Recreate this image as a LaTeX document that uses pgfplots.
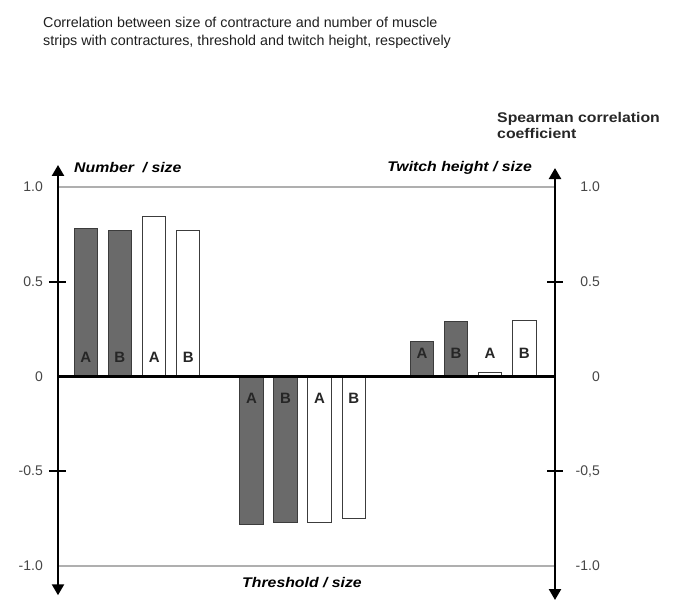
\documentclass[border=0pt]{standalone}
\usepackage{fontspec}
\setmainfont{Liberation Sans}
\newfontfamily\widebf[FakeStretch=1.13]{Liberation Sans Bold}
\newfontfamily\widebi[FakeStretch=1.13]{Liberation Sans Bold Italic}
\usepackage{pgfplots}
\pgfplotsset{compat=1.18}
\usepackage{pgfplotstable}
\usetikzlibrary{arrows.meta}

\definecolor{darkbar}{RGB}{106,106,106}
\definecolor{baredge}{RGB}{60,60,60}
\definecolor{ticktext}{RGB}{70,70,70}
\definecolor{refline}{RGB}{175,175,175}

% filled bars (x position, coefficient)
\pgfplotstableread{
x      y
0.82   0.78
1.82   0.77
5.69  -0.78
6.69  -0.77
10.71  0.185
11.71  0.29
}\darkdata
% open bars
\pgfplotstableread{
x      y
2.83   0.845
3.83   0.77
7.69  -0.77
8.70  -0.75
12.71  0.02
13.72  0.295
}\whitedata

\tikzset{
  tlab/.style={anchor=east, inner sep=0pt, text=ticktext, font=\fontsize{14}{16}\selectfont},
  blab/.style={inner sep=0pt, text=black!85, font=\bfseries\fontsize{15}{17}\selectfont},
  axarrow/.style={line width=2.4pt, -{Triangle[width=12pt,length=11pt]}},
}

\begin{document}
\begin{tikzpicture}[x=1pt,y=1pt]
\useasboundingbox (0,0) rectangle (677,600);
\begin{axis}[
    scale only axis,
    width=497pt, height=435pt,
    anchor=south west, at={(58pt,0pt)},
    xmin=0, xmax=14.62,
    ymin=-1.18, ymax=1.116,
    axis lines=none,
    ticks=none,
    clip=false,
]
  % reference lines at +-1
  \draw[refline, line width=1.3pt] (axis cs:0,1) -- (axis cs:14.62,1);
  \draw[refline, line width=1.3pt] (axis cs:0,-1) -- (axis cs:14.62,-1);

  \addplot[ybar, bar width=0.69, bar shift=0pt, fill=darkbar, draw=baredge, line width=0.9pt]
    table[x=x, y=y] {\darkdata};
  \addplot[ybar, bar width=0.69, bar shift=0pt, fill=white, draw=baredge, line width=0.9pt]
    table[x=x, y=y] {\whitedata};

  % zero line
  \draw[black, line width=2.4pt] (axis cs:0,0) -- (axis cs:14.62,0);

  % vertical axes with arrows
  \draw[axarrow] (axis cs:0,0) -- (axis cs:0,1.116);
  \draw[axarrow] (axis cs:0,0) -- (axis cs:0,-1.155);
  \draw[axarrow] (axis cs:14.62,0) -- (axis cs:14.62,1.10);
  \draw[axarrow] (axis cs:14.62,0) -- (axis cs:14.62,-1.18);

  % tick marks
  \draw[line width=1.8pt] ([xshift=-9pt]axis cs:0,0.5) -- ([xshift=8pt]axis cs:0,0.5);
  \draw[line width=1.8pt] ([xshift=-9pt]axis cs:0,-0.5) -- ([xshift=8pt]axis cs:0,-0.5);
  \draw[line width=1.8pt] ([xshift=-8pt]axis cs:14.62,0.5) -- ([xshift=8pt]axis cs:14.62,0.5);
  \draw[line width=1.8pt] ([xshift=-8pt]axis cs:14.62,-0.5) -- ([xshift=8pt]axis cs:14.62,-0.5);

  % tick labels, left
  \node[tlab] at ([xshift=-15pt]axis cs:0,1) {1.0};
  \node[tlab] at ([xshift=-15pt]axis cs:0,0.5) {0.5};
  \node[tlab] at ([xshift=-15pt]axis cs:0,0) {0};
  \node[tlab] at ([xshift=-15pt]axis cs:0,-0.5) {-0.5};
  \node[tlab] at ([xshift=-15pt]axis cs:0,-1) {-1.0};
  % tick labels, right
  \node[tlab] at ([xshift=45pt]axis cs:14.62,1) {1.0};
  \node[tlab] at ([xshift=45pt]axis cs:14.62,0.5) {0.5};
  \node[tlab] at ([xshift=45pt]axis cs:14.62,0) {0};
  \node[tlab] at ([xshift=45pt]axis cs:14.62,-0.5) {-0,5};
  \node[tlab] at ([xshift=45pt]axis cs:14.62,-1) {-1.0};

  % bar letters
  \node[blab] at (axis cs:0.82,0.10) {A};
  \node[blab] at (axis cs:1.82,0.10) {B};
  \node[blab] at (axis cs:2.83,0.10) {A};
  \node[blab] at (axis cs:3.83,0.10) {B};
  \node[blab] at (axis cs:5.69,-0.115) {A};
  \node[blab] at (axis cs:6.69,-0.115) {B};
  \node[blab] at (axis cs:7.69,-0.115) {A};
  \node[blab] at (axis cs:8.70,-0.115) {B};
  \node[blab] at (axis cs:10.71,0.12) {A};
  \node[blab] at (axis cs:11.71,0.12) {B};
  \node[blab] at (axis cs:12.71,0.12) {A};
  \node[blab] at (axis cs:13.72,0.12) {B};
\end{axis}

% title and labels (picture coordinates, origin bottom left)
\node[anchor=base west, inner sep=0pt, align=left, text=black!88,
      font=\fontsize{14.3}{18}\selectfont] at (43,554)
  {Correlation between size of contracture and number of muscle\\
   strips with contractures, threshold and twitch height, respectively};
\node[anchor=base west, inner sep=0pt, align=left, text=black!85,
      font=\widebf\fontsize{14}{16}\selectfont] at (497,461)
  {Spearman correlation\\coefficient};
\node[anchor=base west, inner sep=0pt, font=\widebi\fontsize{14}{16}\selectfont] at (74,427)
  {Number\ \ / size};
\node[anchor=base east, inner sep=0pt, font=\widebi\fontsize{14}{16}\selectfont] at (532,428)
  {Twitch height / size};
\node[anchor=base, inner sep=0pt, font=\widebi\fontsize{14}{16}\selectfont] at (302,13)
  {Threshold / size};
\end{tikzpicture}
\end{document}
